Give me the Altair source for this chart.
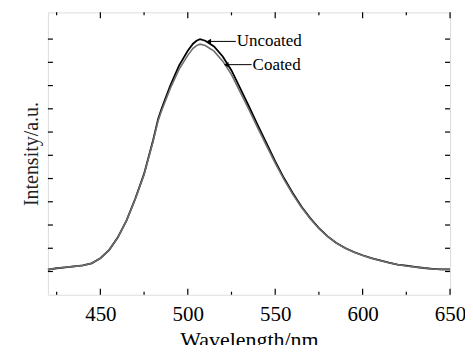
import altair as alt
import pandas as pd

wavelength = [420, 425, 430, 435, 440, 445, 450, 455, 460, 465, 470, 475, 480, 483, 485, 490, 495, 500, 503, 505, 507, 510, 515, 520, 525, 530, 535, 540, 545, 550, 555, 560, 565, 570, 575, 580, 585, 590, 595, 600, 605, 610, 615, 620, 625, 630, 635, 640, 645, 650]
uncoated = [1.08, 1.14, 1.18, 1.22, 1.26, 1.35, 1.57, 1.92, 2.47, 3.20, 4.14, 5.20, 6.60, 7.55, 8.00, 9.00, 9.86, 10.50, 10.80, 10.93, 11.00, 10.93, 10.68, 10.25, 9.65, 8.88, 8.10, 7.30, 6.52, 5.74, 5.02, 4.38, 3.80, 3.30, 2.87, 2.51, 2.23, 2.01, 1.84, 1.70, 1.58, 1.48, 1.38, 1.30, 1.25, 1.20, 1.15, 1.11, 1.09, 1.09]
coated = [1.08, 1.14, 1.18, 1.22, 1.26, 1.35, 1.57, 1.92, 2.47, 3.20, 4.12, 5.17, 6.55, 7.48, 7.92, 8.88, 9.70, 10.30, 10.60, 10.72, 10.78, 10.72, 10.48, 10.05, 9.47, 8.72, 7.96, 7.18, 6.42, 5.66, 4.96, 4.33, 3.76, 3.27, 2.85, 2.50, 2.22, 2.00, 1.83, 1.69, 1.57, 1.47, 1.38, 1.30, 1.24, 1.19, 1.15, 1.11, 1.09, 1.09]

x_major = [450, 500, 550, 600, 650]
x_minor = [425, 475, 525, 575, 625]
y_ticks = [1, 2, 3, 4, 5, 6, 7, 8, 9, 10, 11]

labels = ["Uncoated", "Coated"]
label_x = [512, 522]
label_y = [10.9, 9.9]
text_x = [527.5, 536.5]

W, H = 403, 283
XD = [420, 650]
YD = [0, 12.15]

xs = alt.Scale(domain=XD, nice=False, zero=False)
ys = alt.Scale(domain=YD, nice=False, zero=False)

df = pd.DataFrame({"wl": wavelength + wavelength,
                   "v": uncoated + coated,
                   "s": ["Uncoated"] * len(wavelength) + ["Coated"] * len(wavelength)})
df_u = df[df.s == "Uncoated"]
df_c = df[df.s == "Coated"]

font = "Liberation Serif"

base_axes = alt.Chart(pd.DataFrame({"wl": [420], "v": [0]})).mark_point(opacity=0).encode(
    x=alt.X("wl:Q", scale=xs,
            axis=alt.Axis(values=x_major, ticks=False, domain=False, grid=False,
                          labelFont=font, labelFontSize=21, labelColor="black",
                          labelPadding=9, labelFlush=False, labelBound=False,
                          labelOverlap=False,
                          title="Wavelength/nm", titleFont=font, titleFontSize=22,
                          titleFontWeight="normal", titleColor="black", titlePadding=5)),
    y=alt.Y("v:Q", scale=ys,
            axis=alt.Axis(labels=False, ticks=False, domain=False, grid=False,
                          title="Intensity/a.u.", titleFont=font, titleFontSize=20,
                          titleFontWeight="normal", titleColor="#222222", titlePadding=6)),
)

line_u = alt.Chart(df_u).mark_line(color="black", strokeWidth=1.8).encode(
    x=alt.X("wl:Q", scale=xs), y=alt.Y("v:Q", scale=ys))
line_c = alt.Chart(df_c).mark_line(color="#6e6e6e", strokeWidth=1.6).encode(
    x=alt.X("wl:Q", scale=xs), y=alt.Y("v:Q", scale=ys))

xmaj = pd.DataFrame({"t": x_major})
xmin = pd.DataFrame({"t": x_minor})
ytk = pd.DataFrame({"t": y_ticks})

tk = dict(color="black", strokeWidth=1.2)
bx_major = alt.Chart(xmaj).mark_rule(**tk).encode(
    x=alt.X("t:Q", scale=xs), y=alt.value(H), y2=alt.value(H - 6))
bx_minor = alt.Chart(xmin).mark_rule(**tk).encode(
    x=alt.X("t:Q", scale=xs), y=alt.value(H), y2=alt.value(H - 3))
tx_major = alt.Chart(xmaj).mark_rule(**tk).encode(
    x=alt.X("t:Q", scale=xs), y=alt.value(0), y2=alt.value(6))
tx_minor = alt.Chart(xmin).mark_rule(**tk).encode(
    x=alt.X("t:Q", scale=xs), y=alt.value(0), y2=alt.value(3))
ly = alt.Chart(ytk).mark_rule(**tk).encode(
    y=alt.Y("t:Q", scale=ys), x=alt.value(0), x2=alt.value(5))
ry = alt.Chart(ytk).mark_rule(**tk).encode(
    y=alt.Y("t:Q", scale=ys), x=alt.value(W), x2=alt.value(W - 5))

ann = pd.DataFrame({"lab": labels, "x1": label_x, "x2": text_x, "y": label_y})
arrow_lines = alt.Chart(ann).mark_rule(color="black", strokeWidth=1).encode(
    x=alt.X("x1:Q", scale=xs), x2="x2:Q", y=alt.Y("y:Q", scale=ys))
arrow_heads = alt.Chart(ann).mark_point(shape="triangle-left", filled=True, color="black",
                                        size=28, opacity=1).encode(
    x=alt.X("x1:Q", scale=xs), y=alt.Y("y:Q", scale=ys))
texts = alt.Chart(ann).mark_text(align="left", baseline="middle", font=font,
                                 fontSize=17, color="black", dx=1).encode(
    x=alt.X("x2:Q", scale=xs), y=alt.Y("y:Q", scale=ys), text="lab:N")

chart = alt.layer(base_axes, line_u, line_c, bx_major, bx_minor, tx_major, tx_minor,
                  ly, ry, arrow_lines, arrow_heads, texts).properties(
    width=W, height=H,
    autosize=alt.AutoSizeParams(type="none"),
    padding={"left": 40, "top": 4, "right": 15, "bottom": 50},
).configure_view(stroke="black", strokeWidth=1.6).configure(background="white")

chart.save("out.html", embed_options={"renderer": "svg", "actions": False})
